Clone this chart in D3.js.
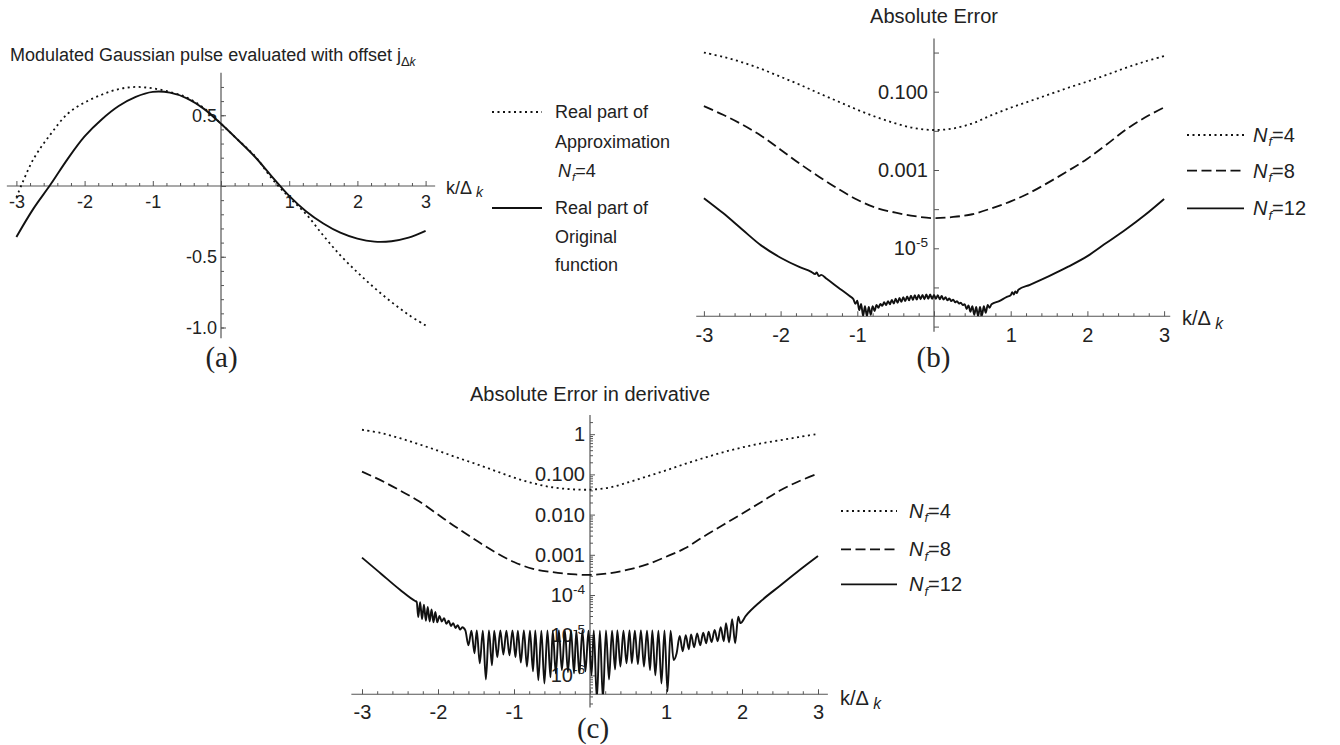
<!DOCTYPE html>
<html>
<head>
<meta charset="utf-8">
<title>Modulated Gaussian pulse - approximation errors</title>
<script src="https://cdn.jsdelivr.net/npm/d3@7/dist/d3.min.js"></script>
<style>
  body { margin: 0; background: #fff; }
  svg text { font-family: "Liberation Sans", Arial, Helvetica, sans-serif; fill: #222; }
  svg text.cap { font-family: "Liberation Serif", "Times New Roman", serif; }
</style>
</head>
<body>
<svg id="fig" width="1340" height="745"></svg>
<script>
'use strict';

// k/Delta_k grid shared by the smooth curves
const kGrid = [-3, -2.75, -2.5, -2.25, -2, -1.75, -1.5, -1.25, -1, -0.75, -0.5, -0.25, 0,
  0.25, 0.5, 0.75, 1, 1.25, 1.5, 1.75, 2, 2.25, 2.5, 2.75, 3];

// (a) real parts
const aApprox = [-0.08, 0.19, 0.365, 0.51, 0.59, 0.645, 0.685, 0.70, 0.69, 0.665, 0.625, 0.55, 0.44,
  0.325, 0.21, 0.05, -0.08, -0.2, -0.35, -0.49, -0.61, -0.72, -0.82, -0.91, -0.985];
const aOriginal = [-0.36, -0.16, 0.01, 0.19, 0.35, 0.47, 0.565, 0.63, 0.665, 0.66, 0.62, 0.545, 0.44,
  0.325, 0.205, 0.065, -0.07, -0.18, -0.265, -0.33, -0.372, -0.393, -0.39, -0.365, -0.317];

// (b) absolute error
const bNf4 = [1.0, 0.776, 0.562, 0.380, 0.240, 0.151, 0.0912, 0.0562, 0.0347, 0.0224, 0.0155, 0.0117, 0.0105,
  0.0115, 0.0155, 0.0251, 0.0389, 0.0575, 0.0851, 0.126, 0.182, 0.269, 0.407, 0.589, 0.813];
const bNf8 = [0.0427, 0.0257, 0.0145, 7.41e-3, 3.31e-3, 1.45e-3, 6.76e-4, 3.31e-4, 1.74e-4, 1.07e-4, 8.13e-5, 6.61e-5, 5.89e-5,
  6.31e-5, 7.41e-5, 1.05e-4, 1.58e-4, 2.63e-4, 4.9e-4, 9.55e-4, 1.95e-3, 4.47e-3, 0.0107, 0.0219, 0.0398];
// [k, error] - N_f=12 has fine ripples near the minima
const bNf12 = [
  [-3, 1.91e-4], [-2.75, 7.94e-5], [-2.5, 3.02e-5], [-2.25, 1.17e-5], [-2, 5.75e-6], [-1.75, 3.31e-6],
  [-1.6, 2.51e-6], [-1.55, 2.19e-6], [-1.53, 2.4e-6], [-1.5, 1.95e-6], [-1.47, 2.09e-6], [-1.4, 1.66e-6],
  [-1.25, 1.0e-6], [-1.1, 6.03e-7], [-1.05, 5.01e-7], [-1.025, 3.8e-7], [-1.0, 4.57e-7], [-0.975, 2.63e-7],
  [-0.95, 3.8e-7], [-0.925, 1.86e-7], [-0.9, 3.31e-7], [-0.875, 1.86e-7], [-0.85, 3.16e-7], [-0.825, 2.0e-7],
  [-0.8, 3.31e-7], [-0.775, 2.51e-7], [-0.75, 3.55e-7], [-0.725, 3.02e-7], [-0.7, 3.8e-7], [-0.675, 3.39e-7],
  [-0.65, 4.17e-7], [-0.625, 3.55e-7], [-0.6, 4.47e-7], [-0.575, 3.72e-7], [-0.55, 4.79e-7], [-0.525, 3.89e-7],
  [-0.5, 5.13e-7], [-0.475, 4.07e-7], [-0.45, 5.37e-7], [-0.425, 4.27e-7], [-0.4, 5.62e-7], [-0.375, 4.47e-7],
  [-0.35, 5.89e-7], [-0.325, 4.68e-7], [-0.3, 6.17e-7], [-0.275, 4.79e-7], [-0.25, 6.31e-7], [-0.225, 4.9e-7],
  [-0.2, 6.46e-7], [-0.175, 5.01e-7], [-0.15, 6.46e-7], [-0.125, 5.01e-7], [-0.1, 6.61e-7], [-0.075, 5.13e-7],
  [-0.05, 6.61e-7], [-0.025, 5.13e-7], [0, 6.46e-7], [0.025, 5.13e-7], [0.05, 6.31e-7], [0.075, 5.01e-7],
  [0.1, 6.03e-7], [0.125, 4.9e-7], [0.15, 5.62e-7], [0.175, 4.68e-7], [0.2, 5.25e-7], [0.225, 4.47e-7],
  [0.25, 4.9e-7], [0.275, 4.17e-7], [0.3, 4.47e-7], [0.325, 3.89e-7], [0.35, 4.07e-7], [0.375, 3.55e-7],
  [0.4, 3.72e-7], [0.425, 2.82e-7], [0.45, 3.47e-7], [0.475, 2.4e-7], [0.5, 3.31e-7], [0.525, 2.0e-7],
  [0.55, 3.16e-7], [0.575, 1.86e-7], [0.6, 3.16e-7], [0.625, 1.91e-7], [0.65, 3.31e-7], [0.675, 2.24e-7],
  [0.7, 3.55e-7], [0.725, 3.02e-7], [0.75, 3.72e-7], [0.85, 4.47e-7], [0.95, 5.75e-7], [1.0, 6.31e-7],
  [1.02, 7.59e-7], [1.04, 6.61e-7], [1.06, 7.94e-7], [1.08, 7.24e-7], [1.1, 8.71e-7], [1.25, 1.17e-6],
  [1.5, 1.95e-6], [1.75, 3.39e-6], [2, 6.31e-6], [2.25, 1.38e-5], [2.5, 3.02e-5], [2.75, 7.08e-5], [3, 1.82e-4]
];

// (c) absolute error in derivative
const cNf4 = [1.29, 1.07, 0.794, 0.562, 0.389, 0.263, 0.182, 0.123, 0.0832, 0.0603, 0.0479, 0.0427, 0.0417,
  0.0468, 0.0631, 0.0891, 0.126, 0.182, 0.257, 0.355, 0.468, 0.589, 0.708, 0.851, 1.02];
const cNf8 = [0.117, 0.0708, 0.0398, 0.0214, 0.01, 4.68e-3, 2.29e-3, 1.17e-3, 6.61e-4, 4.47e-4, 3.72e-4, 3.31e-4, 3.16e-4,
  3.47e-4, 4.27e-4, 5.75e-4, 8.91e-4, 1.45e-3, 2.88e-3, 5.5e-3, 0.0105, 0.0204, 0.0398, 0.0676, 0.105];
const cNf12 = [
  [-3, 8.51e-4], [-2.75, 3.39e-4], [-2.5, 1.35e-4], [-2.3, 7.08e-5], [-2.28, 6.76e-5], [-2.26, 2.82e-5],
  [-2.235, 6.61e-5], [-2.21, 2.51e-5], [-2.185, 5.75e-5], [-2.16, 2.29e-5], [-2.135, 5.01e-5], [-2.11, 2.19e-5],
  [-2.085, 4.37e-5], [-2.06, 2.09e-5], [-2.035, 3.8e-5], [-2.01, 2.09e-5], [-1.98, 3.02e-5], [-1.95, 2.19e-5],
  [-1.92, 2.63e-5], [-1.89, 1.91e-5], [-1.86, 2.29e-5], [-1.83, 1.7e-5], [-1.8, 2.0e-5], [-1.77, 1.51e-5],
  [-1.74, 1.78e-5], [-1.71, 1.38e-5], [-1.68, 1.58e-5],
  [-1.64, 1.32e-5], [-1.60, 5.62e-6], [-1.56, 1.29e-5], [-1.52, 3.55e-6], [-1.49, 1.32e-5], [-1.45, 2.0e-6],
  [-1.41, 1.29e-5], [-1.37, 7.94e-7], [-1.33, 1.32e-5], [-1.29, 1.78e-6], [-1.26, 1.29e-5], [-1.22, 2.82e-6],
  [-1.18, 1.32e-5], [-1.14, 3.31e-6], [-1.10, 1.29e-5], [-1.06, 3.16e-6], [-1.02, 1.32e-5], [-0.98, 2.82e-6],
  [-0.95, 1.29e-5], [-0.91, 2.09e-6], [-0.87, 1.32e-5], [-0.83, 1.66e-6], [-0.79, 1.29e-5], [-0.75, 1.26e-6],
  [-0.72, 1.32e-5], [-0.68, 7.59e-7], [-0.64, 1.29e-5], [-0.60, 6.31e-7], [-0.56, 1.32e-5], [-0.52, 8.91e-7],
  [-0.49, 1.29e-5], [-0.45, 1.12e-6], [-0.41, 1.32e-5], [-0.37, 1.35e-6], [-0.33, 1.29e-5], [-0.29, 1.2e-6],
  [-0.25, 1.32e-5], [-0.21, 1.12e-6], [-0.18, 1.29e-5], [-0.14, 1.12e-6], [-0.10, 1.32e-5], [-0.06, 1.26e-6],
  [-0.02, 1.29e-5], [0.02, 1.0e-6], [0.05, 1.32e-5], [0.09, 2.51e-7], [0.13, 1.29e-5], [0.17, 2.51e-7],
  [0.21, 1.32e-5], [0.25, 7.94e-7], [0.29, 1.29e-5], [0.33, 1.41e-6], [0.36, 1.32e-5], [0.40, 1.66e-6],
  [0.44, 1.29e-5], [0.48, 2.0e-6], [0.52, 1.32e-5], [0.55, 2.0e-6], [0.59, 1.29e-5], [0.63, 1.91e-6],
  [0.67, 1.32e-5], [0.71, 1.66e-6], [0.75, 1.29e-5], [0.79, 1.35e-6], [0.82, 1.32e-5], [0.86, 1.0e-6],
  [0.90, 1.29e-5], [0.94, 6.31e-7], [0.98, 1.32e-5], [1.02, 3.98e-7], [1.06, 1.29e-5], [1.10, 2.4e-6],
  [1.14, 3.55e-6], [1.18, 9.55e-6], [1.22, 3.98e-6], [1.26, 1.0e-5], [1.30, 4.47e-6], [1.33, 1.05e-5],
  [1.37, 5.01e-6], [1.41, 1.1e-5], [1.45, 5.62e-6], [1.49, 1.15e-5], [1.53, 6.31e-6], [1.56, 1.23e-5],
  [1.60, 6.76e-6], [1.64, 1.35e-5], [1.68, 7.08e-6], [1.72, 1.58e-5], [1.76, 7.08e-6], [1.79, 2.0e-5],
  [1.83, 6.61e-6], [1.87, 2.51e-5], [1.91, 6.31e-6], [1.95, 2.88e-5], [1.98, 2.0e-5], [2.05, 3.02e-5],
  [2.25, 7.08e-5], [2.5, 1.7e-4], [2.75, 4.07e-4], [3, 9.33e-4]
];

// tick labels
const aXLabels = [-3, -2, -1, 1, 2, 3];
const aYLabels = [0.5, -0.5, -1];
const bYLabels = [1e-1, 1e-3, 1e-5];
const cYLabels = [1, 1e-1, 1e-2, 1e-3, 1e-4, 1e-5, 1e-6];
const nfLabels = ['4', '8', '12'];

const svg = d3.select('#fig');
const AXIS = '#555';
const INK = '#111';
const DOT = '2,3.5';
const DASH = '10,4.5';

// integer ticks and 0.2 minor ticks on the k axis
const kMajor = [-3, -2, -1, 0, 1, 2, 3];
const kMinor = d3.range(-15, 16).map(i => i / 5).filter(v => !Number.isInteger(v));

function cleanAxis(sel, fs) {
	sel.attr('font-size', fs).attr('font-family', null).style('color', AXIS);
	sel.select('.domain').remove();
}

function addAxes(g, x, y, o) {
	let xAt = y(o.xAxisAt),
		yAt = x(0);

	g.append('line')
		.attr('x1', x(o.xExt[0])).attr('x2', x(o.xExt[1]))
		.attr('y1', xAt).attr('y2', xAt)
		.attr('stroke', AXIS).attr('stroke-width', 1.2);
	g.append('line')
		.attr('x1', yAt).attr('x2', yAt)
		.attr('y1', y(o.yExt[0])).attr('y2', y(o.yExt[1]))
		.attr('stroke', AXIS).attr('stroke-width', 1.2);

	// ticks on the x axis point up
	let gx = g.append('g').attr('transform', `translate(0,${xAt})`);
	gx.append('g').call(d3.axisTop(x).tickValues(kMinor).tickSize(3).tickFormat('')).call(cleanAxis, o.fs);
	gx.append('g').call(d3.axisTop(x).tickValues(kMajor).tickSize(5).tickFormat('')).call(cleanAxis, o.fs);
	gx.append('g')
		.call(d3.axisBottom(x).tickValues(aXLabels).tickSize(0).tickPadding(o.xPad).tickFormat(d => String(d)))
		.call(cleanAxis, o.fs);

	// ticks on the y axis point right, labels sit left
	let gy = g.append('g').attr('transform', `translate(${yAt},0)`);
	if (o.yMinor) {
		gy.append('g').call(d3.axisRight(y).tickValues(o.yMinor).tickSize(3).tickFormat('')).call(cleanAxis, o.fs);
	}
	gy.append('g').call(d3.axisRight(y).tickValues(o.yMajor).tickSize(5).tickFormat('')).call(cleanAxis, o.fs);
	let lab = gy.append('g')
		.call(d3.axisLeft(y).tickValues(o.yLabels).tickSize(0).tickPadding(o.yPad).tickFormat(o.yFormat))
		.call(cleanAxis, o.fs);

	// small powers of ten get a superscript
	if (!o.log) return;
	lab.selectAll('text').each(function(d) {
		if (d >= 1e-3) return;
		let t = d3.select(this).text('10');
		t.append('tspan').attr('font-size', o.fs * 0.68).attr('dy', -o.fs * 0.42)
			.text(String(Math.round(Math.log10(d))));
	});
}

function kLabel(g, px, py, fs) {
	let t = g.append('text').attr('x', px).attr('y', py).attr('font-size', fs).text('k/Δ');
	t.append('tspan').attr('font-size', fs * 0.78).attr('font-style', 'italic').attr('dy', fs * 0.18).text(' k');
}

function nfText(g, px, py, fs, n) {
	let t = g.append('text').attr('x', px).attr('y', py).attr('font-size', fs);
	t.append('tspan').attr('font-style', 'italic').text('N');
	t.append('tspan').attr('font-style', 'italic').attr('font-size', fs * 0.65)
		.attr('dx', fs * 0.05).attr('dy', fs * 0.22).text('f');
	t.append('tspan').attr('dy', -fs * 0.22).text('=' + n);
}

function sample(g, x1, x2, py, dash) {
	g.append('line').attr('x1', x1).attr('x2', x2).attr('y1', py).attr('y2', py)
		.attr('stroke', INK).attr('stroke-width', 1.8).attr('stroke-dasharray', dash);
}

const smooth = d3.curveCatmullRom.alpha(0.5);

// ---------------- (a) ----------------
const xa = d3.scaleLinear().domain([-3, 3]).range([16.4, 425.6]);
const ya = d3.scaleLinear().domain([-1, 0.5]).range([327.5, 115.25]);
const ga = svg.append('g');

addAxes(ga, xa, ya, {
	xAxisAt: 0, xExt: [-3.14, 3.14], yExt: [-1.076, 0.8], fs: 18, xPad: 9, yPad: 4,
	yMajor: [-1, -0.5, 0, 0.5], yMinor: d3.range(-10, 8).map(i => i / 10),
	yLabels: aYLabels, yFormat: d => d.toFixed(1)
});

const lineA = d3.line().x((d, i) => xa(kGrid[i])).y(d => ya(d)).curve(smooth);
ga.append('path').attr('d', lineA(aApprox)).attr('fill', 'none')
	.attr('stroke', INK).attr('stroke-width', 1.8).attr('stroke-dasharray', DOT);
ga.append('path').attr('d', lineA(aOriginal)).attr('fill', 'none')
	.attr('stroke', INK).attr('stroke-width', 1.9);

let ta = ga.append('text').attr('x', 10).attr('y', 61).attr('font-size', 18)
	.text('Modulated Gaussian pulse evaluated with offset j');
ta.append('tspan').attr('font-size', 13).attr('dy', 5).text('Δ');
ta.append('tspan').attr('font-size', 12).attr('font-style', 'italic').text('k');
kLabel(ga, 446, 194, 18);

sample(ga, 492, 542, 112, DOT);
sample(ga, 492, 542, 208, null);
[['Real part of', 118.3], ['Approximation', 148]].forEach(r =>
	ga.append('text').attr('x', 555).attr('y', r[1]).attr('font-size', 18).text(r[0]));
nfText(ga, 558, 177, 18, nfLabels[0]);
[['Real part of', 214.3], ['Original', 243], ['function', 271.3]].forEach(r =>
	ga.append('text').attr('x', 555).attr('y', r[1]).attr('font-size', 18).text(r[0]));
ga.append('text').attr('class', 'cap').attr('x', 221.5).attr('y', 367).attr('font-size', 29)
	.attr('text-anchor', 'middle').text('(a)');

// ---------------- (b) ----------------
const xb = d3.scaleLinear().domain([-3, 3]).range([703.9, 1164.1]);
const yb = d3.scaleLog().domain([1e-7, 1]).range([326.6, 52.55]);
const gb = svg.append('g');
const bFloor = 1.84e-7;

addAxes(gb, xb, yb, {
	xAxisAt: bFloor, xExt: [-3.1, 3.08], yExt: [7.4e-8, 2.3], fs: 20, xPad: 12, yPad: 6, log: true,
	yMajor: [1e-7, 1e-6, 1e-5, 1e-4, 1e-3, 1e-2, 1e-1, 1],
	yLabels: bYLabels, yFormat: d => d.toFixed(3)
});

gb.append('clipPath').attr('id', 'clipB').append('rect')
	.attr('x', 690).attr('y', 30).attr('width', 490).attr('height', yb(bFloor) - 30);
const lineB = d3.line().x((d, i) => xb(kGrid[i])).y(d => yb(d)).curve(smooth);
const lineB12 = d3.line().x(d => xb(d[0])).y(d => yb(d[1])).curve(d3.curveMonotoneX);
let cb = gb.append('g').attr('clip-path', 'url(#clipB)');
cb.append('path').attr('d', lineB(bNf4)).attr('fill', 'none')
	.attr('stroke', INK).attr('stroke-width', 1.8).attr('stroke-dasharray', DOT);
cb.append('path').attr('d', lineB(bNf8)).attr('fill', 'none')
	.attr('stroke', INK).attr('stroke-width', 1.8).attr('stroke-dasharray', DASH);
cb.append('path').attr('d', lineB12(bNf12)).attr('fill', 'none')
	.attr('stroke', INK).attr('stroke-width', 1.9);

gb.append('text').attr('x', 934).attr('y', 23).attr('font-size', 20).attr('text-anchor', 'middle').text('Absolute Error');
kLabel(gb, 1182, 325, 20);
[DOT, DASH, null].forEach((dash, i) => {
	let cy = [135, 170.7, 208.3][i];
	sample(gb, 1187, 1244, cy, dash);
	nfText(gb, 1253, cy + 7, 20, nfLabels[i]);
});
gb.append('text').attr('class', 'cap').attr('x', 933.5).attr('y', 367).attr('font-size', 29)
	.attr('text-anchor', 'middle').text('(b)');

// ---------------- (c) ----------------
const xc = d3.scaleLinear().domain([-3, 3]).range([362, 818]);
const yc = d3.scaleLog().domain([1e-6, 1]).range([675.4, 434.2]);
const gc = svg.append('g');
const cFloor = 3.4e-7;

let cMinor = [];
for (let e = -7; e <= 0; e++) {
	for (let m = 2; m <= 9; m++) {
		let v = m * Math.pow(10, e);
		if (v > 1.6e-7 && v < 3.0) cMinor.push(v);
	}
}

addAxes(gc, xc, yc, {
	xAxisAt: cFloor, xExt: [-3.14, 3.13], yExt: [1.6e-7, 3.0], fs: 20, xPad: 10.5, yPad: 5, log: true,
	yMajor: [1e-6, 1e-5, 1e-4, 1e-3, 1e-2, 1e-1, 1], yMinor: cMinor,
	yLabels: cYLabels, yFormat: d => d === 1 ? '1' : d.toFixed(3)
});

gc.append('clipPath').attr('id', 'clipC').append('rect')
	.attr('x', 340).attr('y', 405).attr('width', 500).attr('height', yc(cFloor) - 405);
const lineC = d3.line().x((d, i) => xc(kGrid[i])).y(d => yc(d)).curve(smooth);
const lineC12 = d3.line().x(d => xc(d[0])).y(d => yc(d[1])).curve(d3.curveMonotoneX);
let cc = gc.append('g').attr('clip-path', 'url(#clipC)');
cc.append('path').attr('d', lineC(cNf4)).attr('fill', 'none')
	.attr('stroke', INK).attr('stroke-width', 1.8).attr('stroke-dasharray', DOT);
cc.append('path').attr('d', lineC(cNf8)).attr('fill', 'none')
	.attr('stroke', INK).attr('stroke-width', 1.8).attr('stroke-dasharray', DASH);
cc.append('path').attr('d', lineC12(cNf12)).attr('fill', 'none')
	.attr('stroke', INK).attr('stroke-width', 1.9);

gc.append('text').attr('x', 590).attr('y', 401).attr('font-size', 20).attr('text-anchor', 'middle')
	.text('Absolute Error in derivative');
kLabel(gc, 840, 705, 20);
[DOT, DASH, null].forEach((dash, i) => {
	let cy = [511, 549.3, 584.3][i];
	sample(gc, 841, 897, cy, dash);
	nfText(gc, 909, cy + 7, 20, nfLabels[i]);
});
gc.append('text').attr('class', 'cap').attr('x', 593).attr('y', 738).attr('font-size', 29)
	.attr('text-anchor', 'middle').text('(c)');
</script>
</body>
</html>
